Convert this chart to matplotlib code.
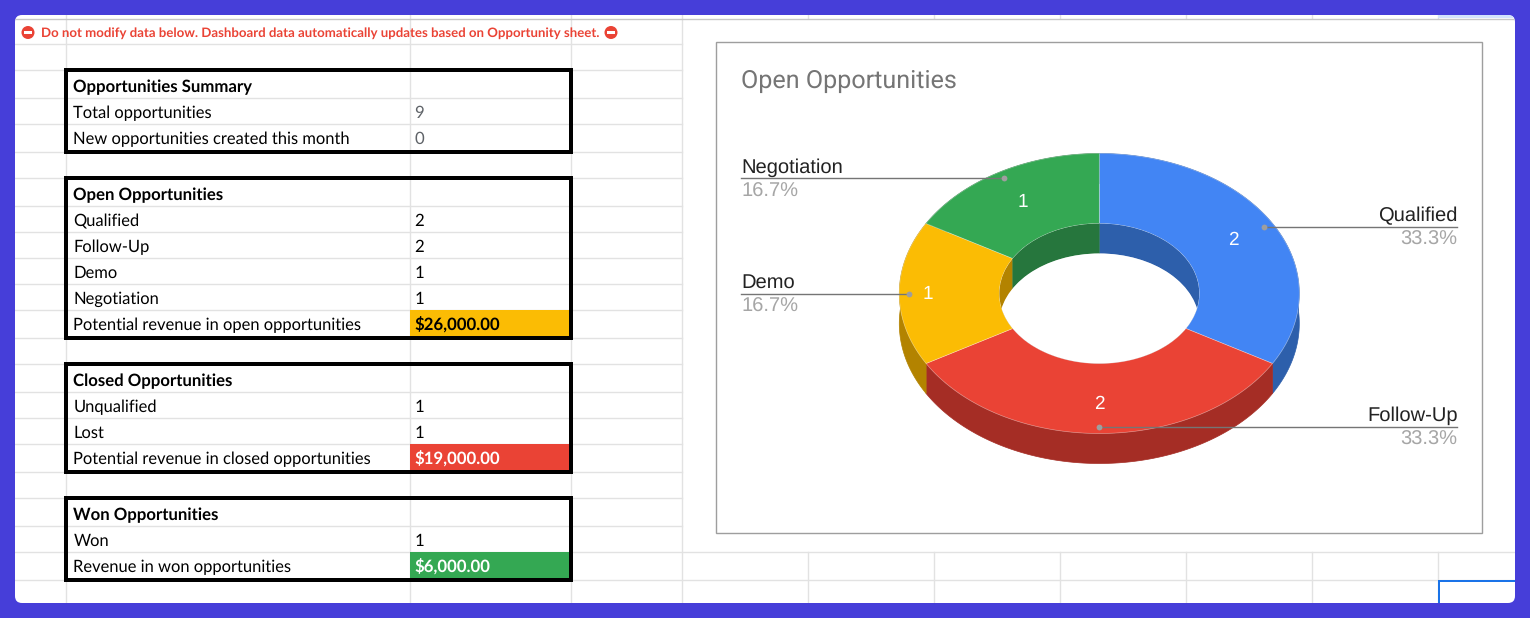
import numpy as np
import matplotlib
matplotlib.use("Agg")
import matplotlib.pyplot as plt
from matplotlib.patches import Circle, Ellipse, FancyBboxPatch, Rectangle

plt.rcParams["text.hinting"] = "no_hinting"

# tables on the left
notice = "Do not modify data below. Dashboard data automatically updates based on Opportunity sheet."

summary_title = "Opportunities Summary"
summary_labels = ["Total opportunities", "New opportunities created this month"]
summary_values = ["9", "0"]

open_title = "Open Opportunities"
open_labels = ["Qualified", "Follow-Up", "Demo", "Negotiation",
               "Potential revenue in open opportunities"]
open_values = ["2", "2", "1", "1", "$26,000.00"]

closed_title = "Closed Opportunities"
closed_labels = ["Unqualified", "Lost", "Potential revenue in closed opportunities"]
closed_values = ["1", "1", "$19,000.00"]

won_title = "Won Opportunities"
won_labels = ["Won", "Revenue in won opportunities"]
won_values = ["1", "$6,000.00"]

# donut
chart_title = "Open Opportunities"
categories = ["Qualified", "Follow-Up", "Demo", "Negotiation"]
counts = [2, 2, 1, 1]

# styles
BG = "#463ed9"
GRID = "#e2e2e2"
YELLOW = "#fbbc04"
RED = "#ea4335"
GREEN = "#34a853"
BLUE = "#4285f4"
top_colors = [BLUE, RED, YELLOW, GREEN]
wall_colors = ["#2d5fab", "#a52d25", "#b38300", "#26763d"]
count_label_r = [0.775, 0.78, 0.855, 0.765]

CX, CY = 1099.3, 293.5
RX, RY = 200, 140
HOLE = 0.5
DEPTH = 30


def px(size):
    return size * 0.72


def arc(t0, t1, scale=1.0, dy=0.0):
    # angles are clockwise from 12 o'clock
    t = np.radians(np.linspace(t0, t1, 120))
    return CX + scale * RX * np.sin(t), CY - scale * RY * np.cos(t) + dy


def draw_table(ax, top, title, labels, values, fill=None, fill_text="black"):
    row_bottoms = table_rows[top]
    ax.text(73.5, row_bottoms[0] - 6, title, family="Lato", weight="bold",
            fontsize=px(16.8), color="#000000", zorder=3)
    for i, (lab, val) in enumerate(zip(labels, values)):
        y1 = row_bottoms[i + 1]
        # last row is 2px taller, text stays where it was
        base = y1 - 8 if i == len(labels) - 1 else y1 - 6
        is_money = val.startswith("$")
        if is_money:
            ax.add_patch(Rectangle((410.5, row_bottoms[i]), 160, y1 - row_bottoms[i],
                                   facecolor=fill, edgecolor="none", zorder=2))
        ax.text(73.5, base, lab, family="Lato", fontsize=px(16.5), color="#000000", zorder=3)
        ax.text(414.5, base, val, family="Lato", zorder=3,
                fontsize=px(16.75),
                weight="bold" if is_money else "normal",
                color=fill_text if is_money else ("#5f6368" if top == 70 else "#000000"))
    ax.add_patch(Rectangle((66, top), 505.5, row_bottoms[-1] - top, fill=False,
                           edgecolor="black", linewidth=px(4), joinstyle="miter", zorder=4))


def no_entry(ax, x, y):
    ax.add_patch(Circle((x, y), 6.5, facecolor=RED, edgecolor="none", zorder=3))
    ax.add_patch(Rectangle((x - 4.2, y - 1.3), 8.4, 2.6, facecolor="white", edgecolor="none", zorder=4))


table_rows = {
    70: [98, 124, 152],
    178: [206, 232, 258, 284, 310, 338],
    364: [392, 418, 444, 472],
    498: [526, 552, 580],
}

fig = plt.figure(figsize=(15.3, 6.18), dpi=100, facecolor=BG)
ax = fig.add_axes([0, 0, 1, 1])
ax.set_xlim(0, 1530)
ax.set_ylim(618, 0)
ax.axis("off")

card = FancyBboxPatch((15, 15), 1500, 588, boxstyle="round,pad=0,rounding_size=7",
                      facecolor="white", edgecolor="none", zorder=0)
ax.add_patch(card)

# sheet grid
grid_artists = []
for y in [44, 70, 98, 124, 152, 178, 206, 232, 258, 284, 310, 338, 364, 392, 418, 444, 472, 498, 526]:
    grid_artists += ax.plot([15, 682], [y, y], color=GRID, lw=1, zorder=1)
for y in [552, 580]:
    grid_artists += ax.plot([15, 1515], [y, y], color=GRID, lw=1, zorder=1)
for x in [66.5, 410.5, 571.5, 682]:
    grid_artists += ax.plot([x, x], [15, 603], color=GRID, lw=1, zorder=1)
for x in [808, 934, 1060, 1186, 1312, 1438]:
    grid_artists += ax.plot([x, x], [552, 603], color=GRID, lw=1, zorder=1)
    grid_artists += ax.plot([x, x], [15, 18], color=GRID, lw=1, zorder=1)
head = Rectangle((1438, 15), 77, 3, facecolor="#d3e3fd", edgecolor="none", zorder=1)
ax.add_patch(head)
grid_artists += ax.plot([15, 1515], [18.5, 18.5], color="#c7c7c7", lw=1, zorder=1)
for a in grid_artists + [head]:
    a.set_clip_path(card)

# selected cell
sel = ax.plot([1515, 1439, 1439], [580.5, 580.5, 603], color="#1a73e8", lw=px(2),
              solid_joinstyle="miter", zorder=2)[0]
sel.set_clip_path(card)

# notice row
no_entry(ax, 28, 32.5)
ax.text(41, 37, notice, family="Lato", weight="bold", fontsize=px(13.2), color=RED, zorder=3)
no_entry(ax, 611, 32.5)

draw_table(ax, 70, summary_title, summary_labels, summary_values)
draw_table(ax, 178, open_title, open_labels, open_values, fill=YELLOW, fill_text="black")
draw_table(ax, 364, closed_title, closed_labels, closed_values, fill=RED, fill_text="white")
draw_table(ax, 498, won_title, won_labels, won_values, fill=GREEN, fill_text="white")

# chart frame
ax.add_patch(Rectangle((716.5, 42), 765.5, 491, facecolor="white", edgecolor="#9e9e9e",
                       linewidth=1, zorder=5))
ax.text(741.5, 88, chart_title, family="Roboto", fontsize=px(25.1), color="#757575", zorder=6)

# donut, 3d look built from the counts
total = sum(counts)
edges = np.concatenate([[0], np.cumsum(counts)]) / total * 360

for i in range(len(counts)):
    x, y = arc(edges[i], edges[i + 1])
    xs, ys = arc(edges[i + 1], edges[i], dy=DEPTH)
    ax.fill(np.r_[x, xs], np.r_[y, ys], color=wall_colors[i], lw=0.5, zorder=6)

for i in range(len(counts)):
    x, y = arc(edges[i], edges[i + 1])
    xi, yi = arc(edges[i + 1], edges[i], scale=HOLE)
    ax.fill(np.r_[x, xi], np.r_[y, yi], facecolor=top_colors[i], edgecolor="#ffffff60",
            lw=0.5, zorder=7)

# inner wall is the same extrusion, only seen through the hole
hole_clip = Ellipse((CX, CY), 2 * HOLE * RX, 2 * HOLE * RY, transform=ax.transData)
for i in range(len(counts)):
    xi, yi = arc(edges[i], edges[i + 1], scale=HOLE)
    xs, ys = arc(edges[i + 1], edges[i], scale=HOLE, dy=DEPTH)
    wall = ax.fill(np.r_[xi, xs], np.r_[yi, ys], color=wall_colors[i], lw=0.3, zorder=8)[0]
    wall.set_clip_path(hole_clip)

hole = Ellipse((CX, CY + DEPTH), 2 * HOLE * RX, 2 * HOLE * RY, facecolor="white",
               edgecolor="none", zorder=9)
ax.add_patch(hole)
hole.set_clip_path(hole_clip)

# leader lines and labels
for i, (name, cnt) in enumerate(zip(categories, counts)):
    mid = np.radians((edges[i] + edges[i + 1]) / 2)
    dot_x = CX + 0.95 * RX * np.sin(mid)
    dot_y = CY - 0.95 * RY * np.cos(mid)
    on_right = np.sin(mid) > -0.01
    end_x = 1457.5 if on_right else 741.5
    ha = "right" if on_right else "left"
    ax.plot([dot_x, end_x], [dot_y, dot_y], color="#757575", lw=1, zorder=10)
    ax.plot(dot_x, dot_y, "o", ms=4.2, color="#9e9e9e", mec="none", zorder=11)
    ax.text(end_x, dot_y - 5.5, name, family="Liberation Sans", fontsize=px(20.2),
            color="#222222", ha=ha, zorder=11)
    ax.text(end_x, dot_y + 18, f"{cnt / total * 100:.1f}%", family="Liberation Sans",
            fontsize=px(20.2), color="#a6a6a6", ha=ha, zorder=11)
    r = count_label_r[i]
    ax.text(CX + r * RX * np.sin(mid), CY - r * RY * np.cos(mid) + 1, str(cnt),
            family="Liberation Sans", fontsize=px(19), color="white",
            ha="center", va="center", zorder=11)

fig.savefig("out.png", dpi=100, facecolor=BG)
